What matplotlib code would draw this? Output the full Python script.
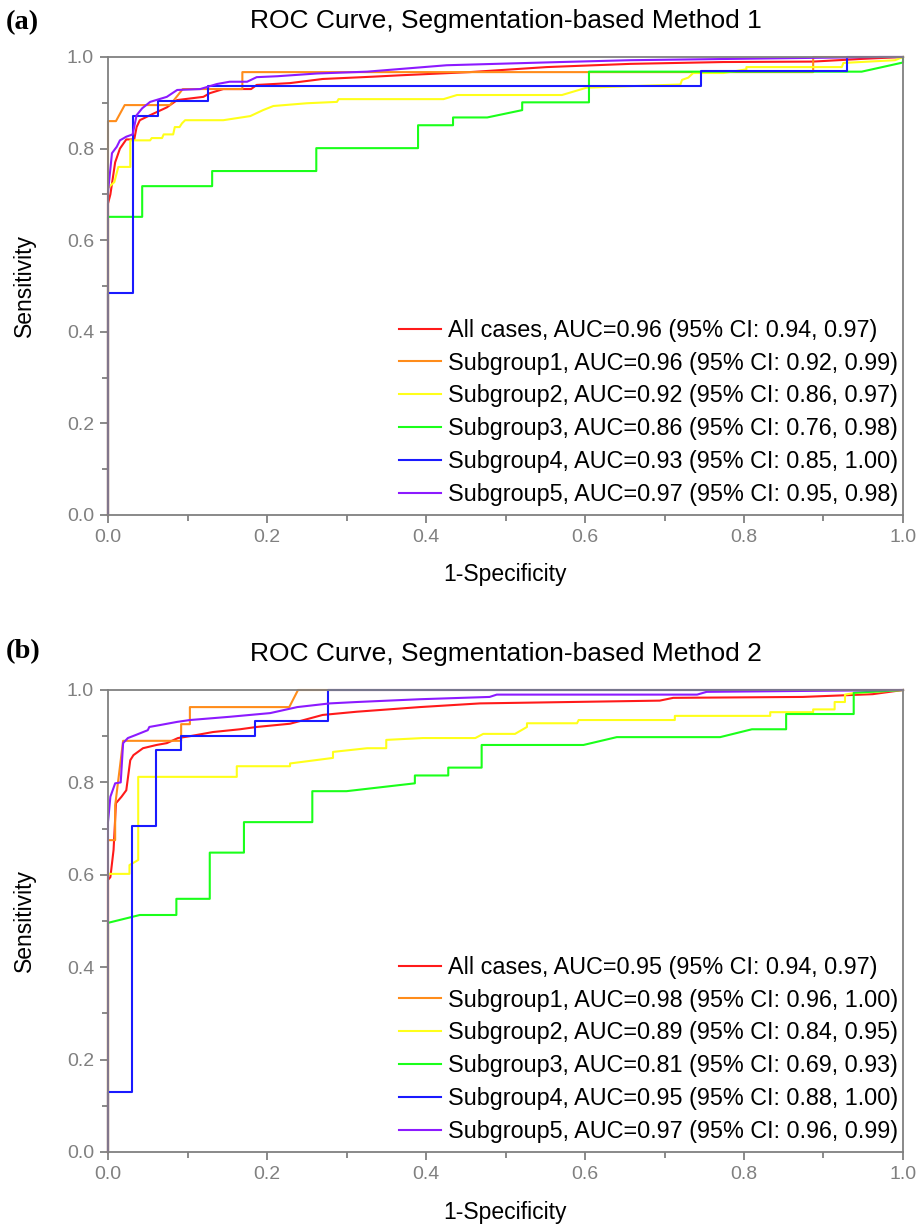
import matplotlib
matplotlib.use("Agg")
import matplotlib.pyplot as plt
from matplotlib.ticker import MultipleLocator, FormatStrFormatter

plt.rcParams['font.family'] = ['Liberation Sans', 'DejaVu Sans']

# ---------------- data ----------------
series_names = ["All cases", "Subgroup1", "Subgroup2", "Subgroup3", "Subgroup4", "Subgroup5"]
series_colors = ["#ff1a1a", "#ff8c1a", "#ffff1a", "#1aff1a", "#1a1aff", "#8c1aff"]

auc_a = ["0.96", "0.96", "0.92", "0.86", "0.93", "0.97"]
ci_a = ["0.94, 0.97", "0.92, 0.99", "0.86, 0.97", "0.76, 0.98", "0.85, 1.00", "0.95, 0.98"]
auc_b = ["0.95", "0.98", "0.89", "0.81", "0.95", "0.97"]
ci_b = ["0.94, 0.97", "0.96, 1.00", "0.84, 0.95", "0.69, 0.93", "0.88, 1.00", "0.96, 0.99"]

# panel (a), method 1
a_all_x = [0, 0, 0.003, 0.009, 0.015, 0.023, 0.033, 0.036, 0.04, 0.053, 0.074, 0.087, 0.12, 0.128,
           0.145, 0.18, 0.187, 0.229, 0.27, 0.333, 0.367, 0.455, 0.552, 0.657, 0.774, 0.887, 0.95, 1.0]
a_all_y = [0, 0.68, 0.70, 0.77, 0.80, 0.82, 0.82, 0.847, 0.862, 0.873, 0.89, 0.906, 0.913, 0.921,
           0.93, 0.93, 0.939, 0.943, 0.952, 0.957, 0.96, 0.967, 0.978, 0.985, 0.989, 0.99, 0.996, 1.0]
a_s1_x = [0, 0, 0.01, 0.021, 0.078, 0.094, 0.169, 0.169, 0.887, 0.887, 1.0]
a_s1_y = [0, 0.86, 0.86, 0.895, 0.895, 0.93, 0.93, 0.967, 0.967, 1.0, 1.0]
a_s2_x = [0, 0, 0.008, 0.013, 0.028, 0.028, 0.053, 0.055, 0.068, 0.07, 0.082, 0.084, 0.09, 0.093,
          0.097, 0.145, 0.179, 0.195, 0.208, 0.25, 0.288, 0.29, 0.422, 0.439, 0.571, 0.602, 0.635,
          0.72, 0.722, 0.73, 0.736, 0.774, 0.803, 0.803, 0.923, 0.925, 0.99, 1.0]
a_s2_y = [0, 0.714, 0.727, 0.76, 0.76, 0.818, 0.818, 0.823, 0.823, 0.831, 0.831, 0.847, 0.847, 0.855,
          0.862, 0.862, 0.871, 0.884, 0.893, 0.899, 0.902, 0.908, 0.908, 0.917, 0.917, 0.933, 0.935,
          0.94, 0.95, 0.955, 0.965, 0.965, 0.973, 0.978, 0.978, 0.987, 0.993, 1.0]
a_s3_x = [0, 0, 0.043, 0.043, 0.131, 0.131, 0.262, 0.262, 0.39, 0.39, 0.434, 0.434, 0.477, 0.521,
          0.521, 0.605, 0.605, 0.929, 0.948, 1.0, 1.0]
a_s3_y = [0, 0.651, 0.651, 0.718, 0.718, 0.751, 0.751, 0.801, 0.801, 0.851, 0.851, 0.868, 0.868, 0.884,
          0.901, 0.901, 0.968, 0.968, 0.968, 0.988, 1.0]
a_s4_x = [0, 0, 0.031, 0.031, 0.063, 0.063, 0.126, 0.126, 0.746, 0.746, 0.93, 0.93, 1.0]
a_s4_y = [0, 0.485, 0.485, 0.871, 0.871, 0.904, 0.904, 0.937, 0.937, 0.969, 0.969, 1.0, 1.0]
a_s5_x = [0, 0, 0.005, 0.011, 0.015, 0.023, 0.031, 0.036, 0.043, 0.053, 0.074, 0.087, 0.116, 0.137,
          0.153, 0.175, 0.187, 0.213, 0.263, 0.326, 0.376, 0.426, 0.569, 0.657, 0.971, 1.0]
a_s5_y = [0, 0.705, 0.79, 0.804, 0.818, 0.826, 0.831, 0.873, 0.888, 0.902, 0.913, 0.928, 0.93, 0.941,
          0.946, 0.946, 0.956, 0.958, 0.964, 0.968, 0.975, 0.982, 0.989, 0.993, 1.0, 1.0]

# panel (b), method 2
b_all_x = [0, 0, 0.003, 0.007, 0.01, 0.017, 0.023, 0.028, 0.032, 0.044, 0.061, 0.074, 0.088, 0.103,
           0.132, 0.166, 0.187, 0.229, 0.27, 0.313, 0.392, 0.468, 0.694, 0.711, 0.874, 0.962, 1.0]
b_all_y = [0, 0.589, 0.595, 0.654, 0.755, 0.769, 0.783, 0.848, 0.859, 0.874, 0.881, 0.885, 0.896, 0.9,
           0.909, 0.915, 0.92, 0.927, 0.946, 0.953, 0.963, 0.971, 0.977, 0.983, 0.985, 0.991, 1.0]
b_s1_x = [0, 0, 0.009, 0.009, 0.015, 0.019, 0.092, 0.092, 0.103, 0.103, 0.228, 0.239, 1.0]
b_s1_y = [0, 0.675, 0.675, 0.75, 0.834, 0.89, 0.89, 0.926, 0.926, 0.963, 0.963, 1.0, 1.0]
b_s2_x = [0, 0, 0.027, 0.027, 0.038, 0.038, 0.162, 0.162, 0.229, 0.229, 0.283, 0.283, 0.326, 0.35,
          0.35, 0.396, 0.462, 0.472, 0.512, 0.527, 0.527, 0.59, 0.592, 0.713, 0.713, 0.833, 0.833,
          0.887, 0.887, 0.914, 0.914, 0.927, 0.927, 0.937, 1.0]
b_s2_y = [0, 0.602, 0.602, 0.621, 0.632, 0.812, 0.812, 0.835, 0.835, 0.841, 0.853, 0.866, 0.874, 0.874,
          0.892, 0.896, 0.896, 0.905, 0.905, 0.92, 0.928, 0.928, 0.935, 0.935, 0.944, 0.944, 0.952,
          0.952, 0.958, 0.958, 0.974, 0.974, 0.99, 0.993, 1.0]
b_s3_x = [0, 0, 0.04, 0.086, 0.086, 0.128, 0.128, 0.171, 0.171, 0.257, 0.257, 0.3, 0.386, 0.386,
          0.428, 0.428, 0.47, 0.47, 0.598, 0.64, 0.77, 0.81, 0.853, 0.853, 0.938, 0.938, 1.0]
b_s3_y = [0, 0.496, 0.513, 0.513, 0.548, 0.548, 0.648, 0.648, 0.714, 0.714, 0.781, 0.781, 0.798, 0.815,
          0.815, 0.832, 0.832, 0.881, 0.881, 0.898, 0.898, 0.915, 0.915, 0.948, 0.948, 0.994, 1.0]
b_s4_x = [0, 0, 0.03, 0.03, 0.061, 0.061, 0.092, 0.092, 0.185, 0.185, 0.277, 0.277, 1.0]
b_s4_y = [0, 0.13, 0.13, 0.706, 0.706, 0.87, 0.87, 0.9, 0.9, 0.933, 0.933, 1.0, 1.0]
b_s5_x = [0, 0, 0.003, 0.009, 0.016, 0.019, 0.025, 0.034, 0.05, 0.052, 0.065, 0.087, 0.103, 0.153,
          0.204, 0.238, 0.279, 0.313, 0.392, 0.48, 0.489, 0.741, 0.753, 1.0]
b_s5_y = [0, 0.714, 0.769, 0.798, 0.8, 0.885, 0.896, 0.902, 0.913, 0.92, 0.924, 0.931, 0.935, 0.942,
          0.95, 0.963, 0.971, 0.974, 0.98, 0.985, 0.99, 0.99, 0.996, 1.0]

panels = [
    ("(a)", "ROC Curve, Segmentation-based Method 1", auc_a, ci_a,
     [(a_all_x, a_all_y), (a_s1_x, a_s1_y), (a_s2_x, a_s2_y),
      (a_s3_x, a_s3_y), (a_s4_x, a_s4_y), (a_s5_x, a_s5_y)]),
    ("(b)", "ROC Curve, Segmentation-based Method 2", auc_b, ci_b,
     [(b_all_x, b_all_y), (b_s1_x, b_s1_y), (b_s2_x, b_s2_y),
      (b_s3_x, b_s3_y), (b_s4_x, b_s4_y), (b_s5_x, b_s5_y)]),
]

W, H = 920, 1225
fig = plt.figure(figsize=(W / 100, H / 100), dpi=100)

# axes boxes in pixels: left, top, right, bottom
boxes = [(108, 57, 903, 515), (108, 690, 903, 1152)]
tag_y = [23, 652]

grey = "#808080"
for (tag, title, aucs, cis, curves), (l, t, r, b), ty in zip(panels, boxes, tag_y):
    ax = fig.add_axes([l / W, 1 - b / H, (r - l) / W, (b - t) / H])
    for name, col, auc, ci, (xs, ys) in zip(series_names, series_colors, aucs, cis, curves):
        ax.plot(xs, ys, color=col, lw=1.5, clip_on=False,
                label=f"{name}, AUC={auc} (95% CI: {ci})")

    ax.set_xlim(0, 1)
    ax.set_ylim(0, 1)
    for sp in ax.spines.values():
        sp.set_color(grey)
        sp.set_linewidth(1.3)
    ax.xaxis.set_major_locator(MultipleLocator(0.2))
    ax.xaxis.set_minor_locator(MultipleLocator(0.1))
    ax.yaxis.set_major_locator(MultipleLocator(0.2))
    ax.yaxis.set_minor_locator(MultipleLocator(0.1))
    ax.xaxis.set_major_formatter(FormatStrFormatter("%.1f"))
    ax.yaxis.set_major_formatter(FormatStrFormatter("%.1f"))
    ax.tick_params(which="both", direction="out", color=grey, width=1.3,
                   labelcolor=grey, labelsize=14, top=False, right=False)
    ax.tick_params(which="major", length=6, pad=4)
    ax.tick_params(which="minor", length=4)

    ax.set_title(title, fontsize=19, pad=21)
    ax.set_xlabel("1-Specificity", fontsize=16.5)
    ax.set_ylabel("Sensitivity", fontsize=16.5)
    ax.xaxis.set_label_coords(0.5, -0.105)
    ax.yaxis.set_label_coords(-0.09, 0.5)

    ax.legend(loc="lower right", bbox_to_anchor=(1.0, 0.01), frameon=False, fontsize=16.8,
              labelspacing=0.42, handlelength=1.8, handletextpad=0.3,
              borderpad=0.0, borderaxespad=0.2)

    fig.text(6 / W, 1 - ty / H, tag, fontsize=20.5, fontweight="bold",
             family="Liberation Serif", va="center", ha="left")

fig.savefig("out.png", dpi=100)
